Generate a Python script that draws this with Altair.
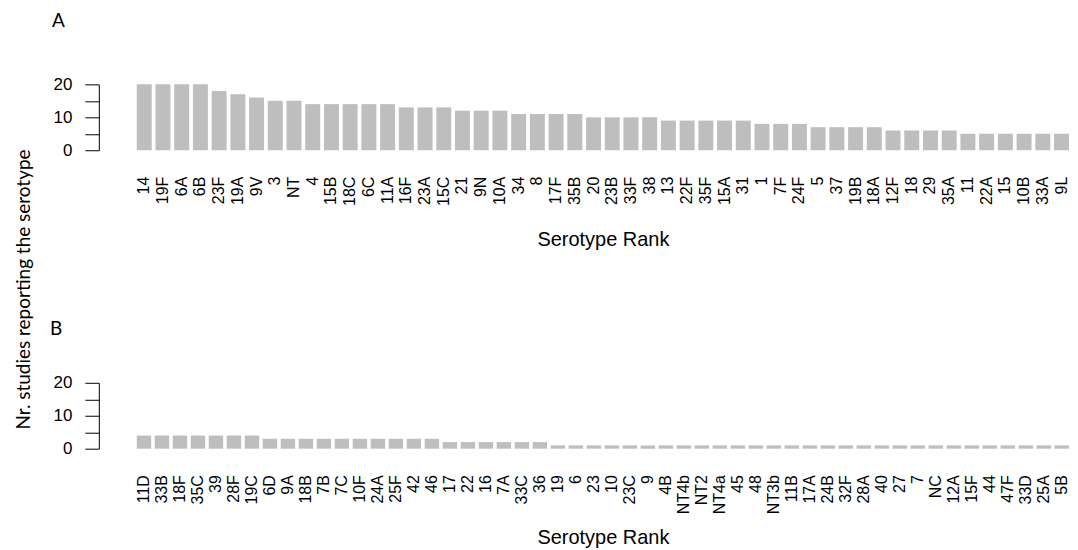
import altair as alt
import pandas as pd

# Panel A: serotypes reported by the most studies
a_sero = ["14", "19F", "6A", "6B", "23F", "19A", "9V", "3", "NT", "4",
          "15B", "18C", "6C", "11A", "16F", "23A", "15C", "21", "9N", "10A",
          "34", "8", "17F", "35B", "20", "23B", "33F", "38", "13", "22F",
          "35F", "15A", "31", "1", "7F", "24F", "5", "37", "19B", "18A",
          "12F", "18", "29", "35A", "11", "22A", "15", "10B", "33A", "9L"]
a_n = [20, 20, 20, 20, 18, 17, 16, 15, 15, 14,
       14, 14, 14, 14, 13, 13, 13, 12, 12, 12,
       11, 11, 11, 11, 10, 10, 10, 10, 9, 9,
       9, 9, 9, 8, 8, 8, 7, 7, 7, 7,
       6, 6, 6, 6, 5, 5, 5, 5, 5, 5]

# Panel B: remaining serotypes
b_sero = ["11D", "33B", "18F", "35C", "39", "28F", "19C", "6D", "9A", "18B",
          "7B", "7C", "10F", "24A", "25F", "42", "46", "17", "22", "16",
          "7A", "33C", "36", "19", "6", "23", "10", "23C", "9", "4B",
          "NT4b", "NT2", "NT4a", "45", "48", "NT3b", "11B", "17A", "24B", "32F",
          "28A", "40", "27", "7", "NC", "12A", "15F", "44", "47F", "33D",
          "25A", "5B"]
b_n = [4, 4, 4, 4, 4, 4, 4, 3, 3, 3,
       3, 3, 3, 3, 3, 3, 3, 2, 2, 2,
       2, 2, 2, 1, 1, 1, 1, 1, 1, 1,
       1, 1, 1, 1, 1, 1, 1, 1, 1, 1,
       1, 1, 1, 1, 1, 1, 1, 1, 1, 1,
       1, 1]

y_ticks = [0, 5, 10, 15, 20]
YTITLE = "Nr. studies reporting the serotype"


def y_axis(ytitle):
    common = dict(
        values=y_ticks, labelExpr="datum.value % 10 == 0 ? datum.label : ''",
        grid=False, tickSize=14, offset=38, domainColor="black", tickColor="black",
        labelColor="black", labelFont="Liberation Sans", labelFontSize=17, labelPadding=13)
    if ytitle:
        return alt.Axis(
            title=ytitle, titleFont="Lato", titleFontSize=19, titleFontWeight="normal",
            titleColor="black", titleAngle=270, titleAlign="center",
            titleBaseline="alphabetic", titleX=-69, titleY=205, **common)
    return alt.Axis(title=None, **common)


def panel(sero, n, letter, letter_offset, letter_dx, ytitle):
    df = pd.DataFrame({"serotype": sero, "n": n})
    return alt.Chart(df).mark_bar(color="#bebebe").encode(
        x=alt.X("serotype:N", sort=sero,
                scale=alt.Scale(paddingInner=0.2, paddingOuter=0),
                axis=alt.Axis(title="Serotype Rank", labelAngle=-90, domain=False, ticks=False,
                              labelPadding=26, labelFontSize=16, labelFont="Liberation Sans",
                              labelColor="black", labelOverlap=False,
                              titleFont="Liberation Sans", titleFontSize=20,
                              titleFontWeight="normal", titleColor="black",
                              titleY=79, titleBaseline="top")),
        y=alt.Y("n:Q", scale=alt.Scale(domain=[0, 20], nice=False), axis=y_axis(ytitle)),
    ).properties(
        width=934, height=66,
        title=alt.Title(letter, anchor="start", frame="group", dx=letter_dx,
                        offset=letter_offset, font="Lato", fontSize=19,
                        fontWeight="normal", color="black", baseline="alphabetic"),
    )


chart_a = panel(a_sero, a_n, "A", 29, -85, YTITLE)
chart_b = panel(b_sero, b_n, "B", 20, -87, None)

chart = alt.vconcat(chart_a, chart_b, spacing=233, bounds="flush").configure_view(
    stroke=None
).properties(padding={"left": 7, "top": 4, "right": 0, "bottom": 0}, background="white")

chart.save("out.html", embed_options={"renderer": "svg", "actions": False})
